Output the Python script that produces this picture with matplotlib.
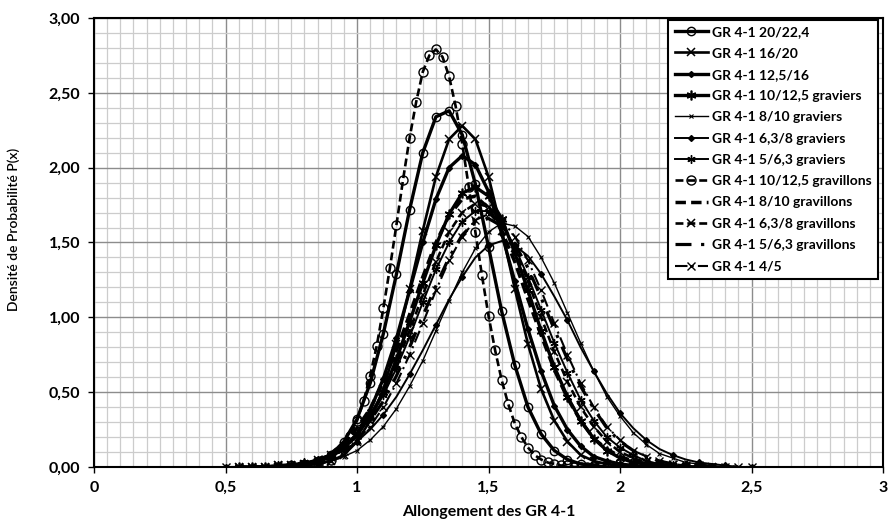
import numpy as np
import matplotlib.pyplot as plt
from matplotlib.ticker import MultipleLocator, FuncFormatter

plt.rcParams['font.family'] = ['Lato', 'DejaVu Sans']

N = None  # hors de l'étendue de la série

# Abscisses communes (allongement), pas de 0,05
x_grid = [0.50, 0.55, 0.60, 0.65, 0.70, 0.75, 0.80, 0.85, 0.90, 0.95,
          1.00, 1.05, 1.10, 1.15, 1.20, 1.25, 1.30, 1.35, 1.40, 1.45,
          1.50, 1.55, 1.60, 1.65, 1.70, 1.75, 1.80, 1.85, 1.90, 1.95,
          2.00, 2.05, 2.10, 2.15, 2.20, 2.25, 2.30, 2.35, 2.40, 2.45, 2.50]

# Abscisses plus fines pour GR 4-1 10/12,5 gravillons
x_fine = [0.850, 0.875, 0.900, 0.925, 0.950, 0.975, 1.000, 1.025, 1.050, 1.075,
          1.100, 1.125, 1.150, 1.175, 1.200, 1.225, 1.250, 1.275, 1.300, 1.325,
          1.350, 1.375, 1.400, 1.425, 1.450, 1.475, 1.500, 1.525, 1.550, 1.575,
          1.600, 1.625, 1.650, 1.675, 1.700, 1.725, 1.750, 1.775, 1.800, 1.825,
          1.850, 1.875, 1.900, 1.925, 1.950]

gr_20_22 = [N, N, N, N, .00, .01, .01, .04, .08, .17,
            .32, .56, .89, 1.29, 1.72, 2.10, 2.34, 2.38, 2.22, 1.89,
            1.47, 1.04, .68, .40, .22, .11, .05, .02, .01, .00,
            .00, N, N, N, N, N, N, N, N, N, N]
gr_16_20 = [N, N, N, N, .00, .00, .01, .02, .04, .08,
            .17, .31, .52, .82, 1.19, 1.58, 1.94, 2.19, 2.28, 2.19,
            1.94, 1.58, 1.19, .82, .52, .31, .17, .08, .04, .02,
            .01, .00, .00, N, N, N, N, N, N, N, N]
gr_12_16 = [N, N, .00, .00, .00, .01, .01, .03, .07, .13,
            .22, .38, .59, .86, 1.18, 1.50, 1.79, 2.00, 2.08, 2.02,
            1.84, 1.56, 1.24, .92, .64, .41, .25, .14, .07, .04,
            .02, .01, .00, .00, .00, N, N, N, N, N, N]
gr_10_12_gv = [N, .00, .00, .00, .00, .01, .02, .04, .07, .13,
               .21, .34, .50, .72, .97, 1.23, 1.48, 1.69, 1.83, 1.87,
               1.81, 1.66, 1.43, 1.18, .91, .67, .47, .31, .19, .11,
               .06, .03, .02, .01, .00, .00, .00, N, N, N, N]
gr_8_10_gv = [.00, .00, .00, .00, .00, .01, .01, .02, .04, .07,
              .11, .18, .27, .39, .54, .71, .91, 1.11, 1.30, 1.46,
              1.57, 1.63, 1.61, 1.54, 1.40, 1.23, 1.03, .83, .64, .47,
              .34, .23, .15, .09, .06, .03, .02, .01, .00, .00, .00]
gr_6_8_gv = [.00, .00, .00, .00, .01, .02, .03, .04, .07, .11,
             .17, .25, .35, .47, .62, .78, .95, 1.12, 1.27, 1.40,
             1.48, 1.51, 1.48, 1.41, 1.29, 1.14, .98, .80, .64, .49,
             .36, .26, .18, .12, .08, .05, .03, .02, .01, .00, .00]
gr_5_6_gv = [N, .00, .00, .00, .01, .01, .03, .05, .08, .14,
             .22, .33, .48, .66, .87, 1.10, 1.32, 1.50, 1.64, 1.71,
             1.71, 1.62, 1.47, 1.27, 1.05, .83, .63, .45, .31, .20,
             .13, .08, .04, .02, .01, .01, .00, .00, .00, N, N]
gr_10_12_gl = [.02, .03, .05, .09, .14, .21, .31, .44, .61, .81,
               1.06, 1.33, 1.62, 1.92, 2.20, 2.44, 2.64, 2.75, 2.79, 2.74,
               2.61, 2.41, 2.16, 1.87, 1.57, 1.28, 1.01, .78, .58, .42,
               .29, .20, .13, .08, .05, .03, .02, .01, .01, .00,
               .00, .00, .00, .00, .00]
gr_8_10_gl = [N, N, .00, .00, .01, .01, .03, .05, .09, .16,
              .26, .39, .57, .78, 1.02, 1.27, 1.50, 1.68, 1.79, 1.81,
              1.73, 1.58, 1.37, 1.12, .88, .65, .46, .31, .19, .12,
              .07, .04, .02, .01, .00, .00, .00, N, N, N, N]
gr_6_8_gl = [N, .00, .00, .00, .01, .01, .02, .05, .08, .14,
             .22, .34, .50, .69, .91, 1.15, 1.37, 1.57, 1.70, 1.76,
             1.74, 1.63, 1.46, 1.24, 1.00, .77, .57, .40, .27, .17,
             .10, .06, .03, .02, .01, .00, .00, .00, N, N, N]
gr_5_6_gl = [N, .00, .00, .00, .01, .01, .03, .05, .08, .13,
             .21, .31, .44, .61, .80, 1.01, 1.21, 1.40, 1.55, 1.64,
             1.66, 1.61, 1.49, 1.33, 1.13, .92, .72, .54, .39, .26,
             .17, .11, .07, .04, .02, .01, .01, .00, .00, .00, N]
gr_4_5 = [.00, .00, .00, .00, .01, .01, .02, .04, .07, .11,
          .18, .27, .40, .56, .75, .96, 1.18, 1.38, 1.54, 1.65,
          1.69, 1.65, 1.54, 1.38, 1.18, .96, .75, .56, .40, .27,
          .18, .11, .07, .04, .02, .01, .01, .00, .00, .00, .00]

labels = ['GR 4-1 20/22,4', 'GR 4-1 16/20', 'GR 4-1 12,5/16',
          'GR 4-1 10/12,5 graviers', 'GR 4-1 8/10 graviers',
          'GR 4-1 6,3/8 graviers', 'GR 4-1 5/6,3 graviers',
          'GR 4-1 10/12,5 gravillons', 'GR 4-1 8/10 gravillons',
          'GR 4-1 6,3/8 gravillons', 'GR 4-1 5/6,3 gravillons', 'GR 4-1 4/5']
series_y = [gr_20_22, gr_16_20, gr_12_16, gr_10_12_gv, gr_8_10_gv, gr_6_8_gv,
            gr_5_6_gv, gr_10_12_gl, gr_8_10_gl, gr_6_8_gl, gr_5_6_gl, gr_4_5]
series_x = [x_grid] * 7 + [x_fine] + [x_grid] * 4

star = (6, 2, 0)
styles = [
    dict(ls='-', lw=2.4, marker='o', ms=6, mfc='none', mew=1.0),
    dict(ls='-', lw=1.9, marker='x', ms=6, mew=1.1),
    dict(ls='-', lw=2.4, marker='D', ms=3),
    dict(ls='-', lw=2.4, marker=star, ms=7, mew=1.2),
    dict(ls='-', lw=1.0, marker='x', ms=3.5, mew=0.8),
    dict(ls='-', lw=1.4, marker='D', ms=3, markevery=2),
    dict(ls='-', lw=1.4, marker=star, ms=6, mew=1.0),
    dict(ls=(0, (3, 1.5)), lw=1.9, marker='o', ms=6.5, mfc='none', mew=1.0),
    dict(ls=(0, (3, 1.5)), lw=2.5),
    dict(ls=(0, (3, 1.5)), lw=1.9, marker='x', ms=6, mew=1.1),
    dict(ls=(0, (5, 3, 1, 3)), lw=2.3),
    dict(ls=(0, (6, 2, 1, 2)), lw=1.5, marker='x', ms=6, mew=1.0),
]

fig = plt.figure(figsize=(8.88, 5.25), dpi=100)
ax = fig.add_axes([0.1059, 0.1105, 0.8885, 0.8552])

for xs, ys, lab, st in zip(series_x, series_y, labels, styles):
    ax.plot(xs, np.array(ys, dtype=float), color='black', label=lab, **st)

ax.set_xlim(0, 3)
ax.set_ylim(0, 3)
ax.xaxis.set_major_locator(MultipleLocator(0.5))
ax.xaxis.set_minor_locator(MultipleLocator(0.05))
ax.yaxis.set_major_locator(MultipleLocator(0.5))
ax.yaxis.set_minor_locator(MultipleLocator(0.1))
ax.xaxis.set_major_formatter(FuncFormatter(lambda v, p: ('%g' % v).replace('.', ',')))
ax.yaxis.set_major_formatter(FuncFormatter(lambda v, p: ('%.2f' % v).replace('.', ',')))

ax.grid(which='minor', color='#cccccc', lw=0.9)
ax.grid(which='major', color='#8c8c8c', lw=1.0)
ax.set_axisbelow(True)
ax.tick_params(which='minor', length=0)
ax.tick_params(which='major', length=4, width=1, labelsize=11.5, pad=6)
for t in ax.get_xticklabels() + ax.get_yticklabels():
    t.set_fontweight('bold')
for s in ax.spines.values():
    s.set_linewidth(1.5)
    s.set_color('black')

ax.set_xlabel('Allongement des GR 4-1', fontsize=11.5, fontweight='bold', labelpad=7)
ax.set_ylabel('Densité de Probabilité P(x)', fontsize=10, fontweight='semibold')
ax.yaxis.set_label_coords(-0.094, 0.53)

leg = ax.legend(loc='upper right', bbox_to_anchor=(0.993, 0.996), borderaxespad=0,
                fancybox=False, framealpha=1, edgecolor='black',
                handlelength=2.4, handletextpad=0.25, labelspacing=0.67,
                borderpad=0.45, prop={'weight': 'bold', 'size': 10})
leg.get_frame().set_linewidth(1.5)

fig.savefig('out.png', dpi=100, facecolor='white')
